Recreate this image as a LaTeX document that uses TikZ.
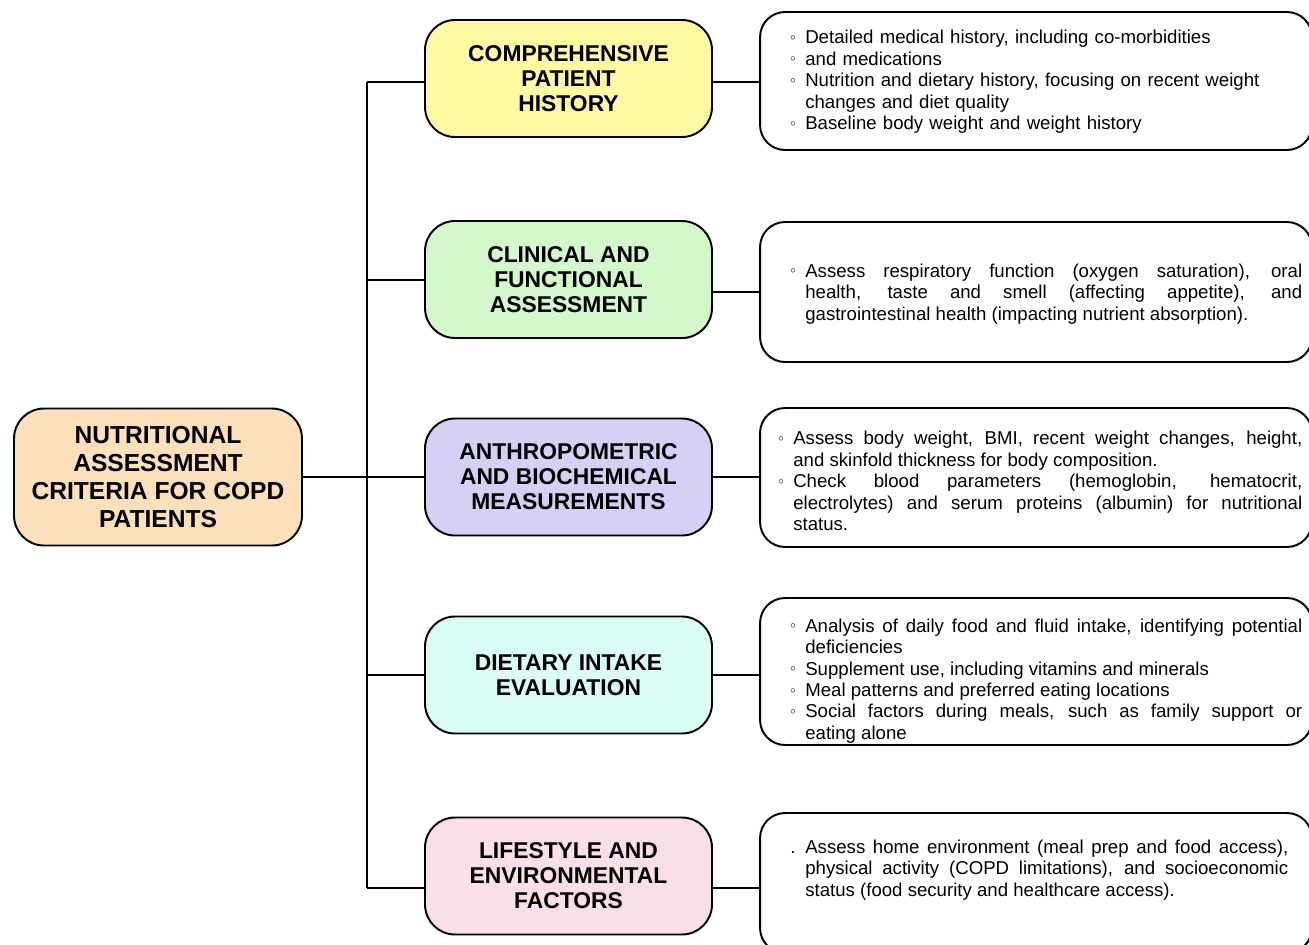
\documentclass[tikz,border=0pt]{standalone}
\usepackage{fontspec}
\setmainfont{Liberation Sans}

\definecolor{rootfill}{HTML}{FCE0BC}
\definecolor{catyellow}{HTML}{FDF8A2}
\definecolor{catgreen}{HTML}{D3F8CC}
\definecolor{catlilac}{HTML}{D6D0F5}
\definecolor{catcyan}{HTML}{D9FCF4}
\definecolor{catpink}{HTML}{FADFEA}

% bullet items inside the detail boxes
\newlength{\bulwd}
\setlength{\bulwd}{8.5pt}
\newcommand\ringitem{\par\noindent\hangindent=\bulwd\hangafter=1\makebox[\bulwd][l]{\raisebox{.35ex}{\scalebox{.55}{$\circ$}}}}
\newcommand\dotitem{\par\noindent\hangindent=\bulwd\hangafter=1\makebox[\bulwd][l]{.}}
\newcommand\nohyph{\hyphenpenalty 10000\relax}

\tikzset{
  rootbox/.style={draw, line width=1.1pt, rounded corners=0.6cm, fill=rootfill,
    minimum width=5.76cm, minimum height=2.74cm, align=center,
    font=\bfseries\fontsize{14}{15.9}\selectfont},
  catbox/.style={draw, line width=1.1pt, rounded corners=0.6cm,
    minimum width=5.74cm, minimum height=2.34cm, align=center,
    font=\bfseries\fontsize{13}{14.2}\selectfont},
  detailbox/.style={draw, line width=1.1pt, rounded corners=0.5cm, minimum width=11.04cm},
  detailtext/.style={anchor=west, inner sep=0pt, align=justify,
    font=\fontsize{10.6}{12.2}\selectfont},
  link/.style={line width=1.1pt},
}

\begin{document}
\begin{tikzpicture}[x=0.02cm, y=-0.02cm]
  \useasboundingbox (0,0) rectangle (1309,944);
  \def\trunkX{367}

  % root of the tree
  \node[rootbox] (root) at (158,477) {NUTRITIONAL\\ASSESSMENT\\CRITERIA FOR COPD\\PATIENTS};

  % vertical trunk
  \coordinate (trunktop) at (\trunkX,82);
  \coordinate (trunkbot) at (\trunkX,888);
  \draw[link] (trunktop) -- (trunkbot);

  % categories: number / centre y / branch y / fill / label
  \foreach \N/\Y/\B/\C/\T in {1/78.5/82/catyellow/{COMPREHENSIVE\\PATIENT\\HISTORY},
                              2/279.5/280/catgreen/{CLINICAL AND\\FUNCTIONAL\\ASSESSMENT},
                              3/477/477/catlilac/{ANTHROPOMETRIC\\AND BIOCHEMICAL\\MEASUREMENTS},
                              4/675/675/catcyan/{DIETARY INTAKE\\EVALUATION},
                              5/876/888/catpink/{LIFESTYLE AND\\ENVIRONMENTAL\\FACTORS}}
      {
      \node[catbox, fill=\C] (cat\N) at (568.5,\Y) {\T};
      \draw[link] (trunktop |- 0,\B) -- (cat\N.west |- 0,\B);
      }
  \draw[link] (root.east) -- (cat3.west);

  % detail boxes: number / centre y / height / link y
  \foreach \N/\Y/\H/\L in {1/81/2.76/82, 2/292/2.8/292, 3/477.5/2.78/477, 4/671.5/2.94/675, 5/883/2.8/888}
      {
      \node[detailbox, minimum height=\H cm] (box\N) at (1036,\Y) {};
      \draw[link] (cat\N.east |- 0,\L) -- (box\N.west |- 0,\L);
      }

  % texts of the detail boxes
  \node[detailtext, text width=10.24cm, align=left] (txt1) at (790,78) {\nohyph
    \ringitem Detailed medical history, including co-morbidities
    \ringitem and medications
    \ringitem Nutrition and dietary history, focusing on recent weight changes and diet quality
    \ringitem Baseline body weight and weight history\par};
  \node[detailtext, text width=10.24cm] (txt2) at (790,290) {\nohyph
    \ringitem Assess respiratory function (oxygen saturation), oral\linebreak
    health, taste and smell (affecting appetite), and\linebreak
    gastrointestinal health (impacting nutrient absorption).\par};
  \node[detailtext, text width=10.48cm] (txt3) at (778,477) {\nohyph
    \ringitem Assess body weight, BMI, recent weight changes, height,\linebreak
    and skinfold thickness for body composition.
    \ringitem Check blood parameters (hemoglobin, hematocrit,\linebreak
    electrolytes) and serum proteins (albumin) for nutritional\linebreak
    status.\par};
  \node[detailtext, text width=10.24cm] (txt4) at (790,677) {\nohyph
    \ringitem Analysis of daily food and fluid intake, identifying potential\linebreak
    deficiencies
    \ringitem Supplement use, including vitamins and minerals
    \ringitem Meal patterns and preferred eating locations
    \ringitem Social factors during meals, such as family support or\linebreak
    eating alone\par};
  \node[detailtext, text width=9.96cm] (txt5) at (790,866) {\nohyph
    \dotitem Assess home environment (meal prep and food access),\linebreak
    physical activity (COPD limitations), and socioeconomic\linebreak
    status (food security and healthcare access).\par};
\end{tikzpicture}
\end{document}
